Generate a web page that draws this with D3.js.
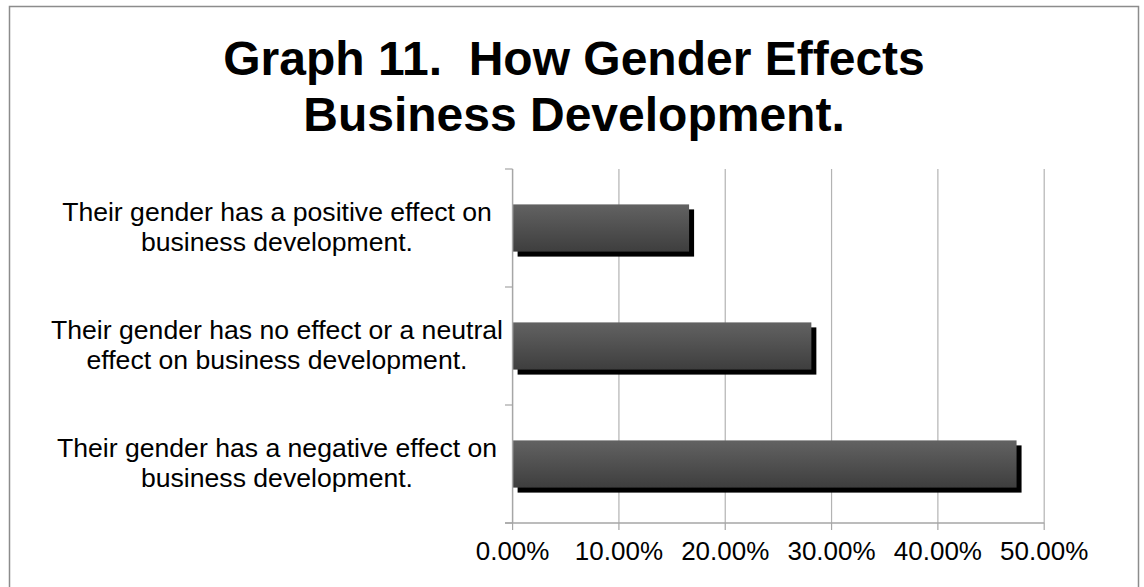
<!DOCTYPE html>
<html>
<head>
<meta charset="utf-8">
<script src="https://cdn.jsdelivr.net/npm/d3@7/dist/d3.min.js"></script>
<style>
  html, body { margin: 0; padding: 0; background: #fff; }
  svg { display: block; font-family: "Liberation Sans", Arial, sans-serif; }
  .title { white-space: pre; }
</style>
</head>
<body>
<svg id="chart" width="1144" height="587"></svg>
<script>
// Survey responses (share of respondents)
const categories = [
  ["Their gender has a positive effect on", "business development."],
  ["Their gender has no effect or a neutral", "effect on business development."],
  ["Their gender has a negative effect on", "business development."]
];
const values = [0.166, 0.281, 0.474];
const xTicks = [0, 0.1, 0.2, 0.3, 0.4, 0.5];
const titleLines = ["Graph 11.  How Gender Effects", "Business Development."];

const svg = d3.select("#chart");

// outer frame (open at the bottom edge of the page)
svg.append("path")
  .attr("d", "M9.5,587 V6.5 H1138.5 V587")
  .attr("fill", "none")
  .attr("stroke", "#8c8c8c")
  .attr("stroke-width", 1.5);

// title
svg.append("text")
  .attr("class", "title")
  .attr("text-anchor", "middle")
  .attr("font-weight", "bold")
  .attr("font-size", 48)
  .attr("fill", "#000")
  .selectAll("tspan")
  .data(titleLines)
  .join("tspan")
  .attr("x", 574)
  .attr("y", (d, i) => 75 + i * 56)
  .text(d => d);

const x = d3.scaleLinear().domain([0, 0.5]).range([512.6, 1044.2]);
const y = d3.scaleBand()
  .domain(d3.range(categories.length))
  .range([169, 523])
  .paddingInner(0.6)
  .paddingOuter(0.3);

// gradient fill for the bars
const defs = svg.append("defs");
const grad = defs.append("linearGradient")
  .attr("id", "barFill")
  .attr("x1", 0).attr("y1", 0).attr("x2", 0).attr("y2", 1);
grad.append("stop").attr("offset", "0%").attr("stop-color", "#626262");
grad.append("stop").attr("offset", "100%").attr("stop-color", "#3e3e3e");

// vertical gridlines
svg.append("g")
  .selectAll("line")
  .data(xTicks.slice(1))
  .join("line")
  .attr("x1", d => x(d)).attr("x2", d => x(d))
  .attr("y1", 169).attr("y2", 523)
  .attr("stroke", "#b3b3b3")
  .attr("stroke-width", 1.2);

// x axis line and ticks
const xAxis = svg.append("g");
xAxis.append("line")
  .attr("x1", 505).attr("x2", x(0.5))
  .attr("y1", 523).attr("y2", 523)
  .attr("stroke", "#a6a6a6").attr("stroke-width", 1.5);
xAxis.selectAll("line.tick")
  .data(xTicks)
  .join("line")
  .attr("class", "tick")
  .attr("x1", d => x(d)).attr("x2", d => x(d))
  .attr("y1", 523).attr("y2", 530)
  .attr("stroke", "#a6a6a6").attr("stroke-width", 1.2);
xAxis.selectAll("text")
  .data(xTicks)
  .join("text")
  .attr("x", d => x(d))
  .attr("y", 560)
  .attr("text-anchor", "middle")
  .attr("font-size", 26)
  .attr("fill", "#000")
  .text(d => d3.format(".2%")(d));

// shadows then bars
const bars = svg.append("g");
bars.selectAll("rect.shadow")
  .data(values)
  .join("rect")
  .attr("class", "shadow")
  .attr("x", x(0) + 5)
  .attr("y", (d, i) => y(i) + 5)
  .attr("width", d => x(d) - x(0))
  .attr("height", y.bandwidth())
  .attr("fill", "#000");
bars.selectAll("rect.bar")
  .data(values)
  .join("rect")
  .attr("class", "bar")
  .attr("x", x(0))
  .attr("y", (d, i) => y(i))
  .attr("width", d => x(d) - x(0))
  .attr("height", y.bandwidth())
  .attr("fill", "url(#barFill)");

// y axis line and category boundary ticks
const yAxis = svg.append("g");
yAxis.append("line")
  .attr("x1", x(0)).attr("x2", x(0))
  .attr("y1", 169).attr("y2", 523)
  .attr("stroke", "#a6a6a6").attr("stroke-width", 1.5);
const step = (523 - 169) / categories.length;
yAxis.selectAll("line.tick")
  .data(d3.range(categories.length + 1))
  .join("line")
  .attr("class", "tick")
  .attr("x1", 505).attr("x2", x(0))
  .attr("y1", d => 169 + d * step).attr("y2", d => 169 + d * step)
  .attr("stroke", "#a6a6a6").attr("stroke-width", 1.2);

// category labels
const labels = svg.append("g")
  .selectAll("text")
  .data(categories)
  .join("text")
  .attr("text-anchor", "middle")
  .attr("font-size", 26.6)
  .attr("fill", "#000");
labels.selectAll("tspan")
  .data((d, i) => d.map(line => ({ line, i })))
  .join("tspan")
  .attr("x", 277)
  .attr("y", (d, j) => y(d.i) + y.bandwidth() / 2 - 7 + j * 29.5)
  .text(d => d.line);
</script>
</body>
</html>
